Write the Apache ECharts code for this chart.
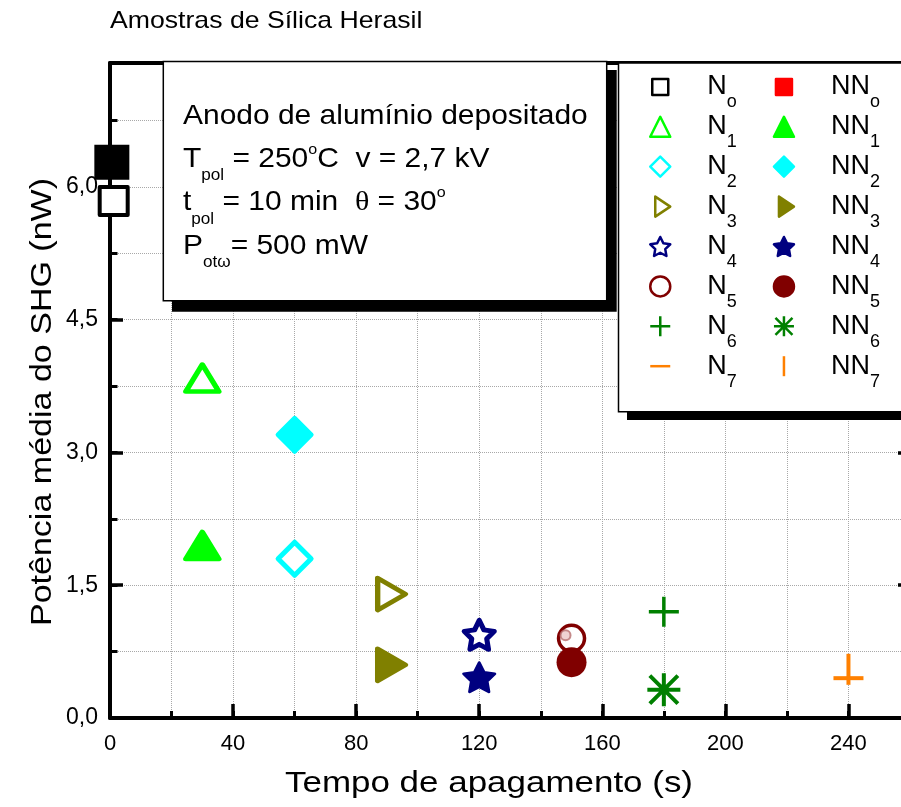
<!DOCTYPE html>
<html>
<head>
<meta charset="utf-8">
<script src="https://cdn.jsdelivr.net/npm/echarts@6/dist/echarts.min.js"></script>
<style>
  html, body { margin: 0; padding: 0; background: #fff; }
  #chart { width: 901px; height: 807px; }
</style>
</head>
<body>
<div id="chart"></div>
<script>
const FONT = '"Liberation Sans", Arial, Helvetica, sans-serif';

// Sample names: N = reference samples, NN = second set
const amostrasN  = ['No', 'N1', 'N2', 'N3', 'N4', 'N5', 'N6', 'N7'];
const amostrasNN = ['NNo', 'NN1', 'NN2', 'NN3', 'NN4', 'NN5', 'NN6', 'NN7'];

// Quenching time (s)
const tempoN  = [1.2, 30, 60, 90, 120, 150, 180, 240];
const tempoNN = [0.6, 30, 60, 90, 120, 150, 180, 240];

// Mean SHG power (nW)
const potenciaN  = [5.84, 3.84, 1.80, 1.40, 0.94, 0.90, 1.20, 0.45];
const potenciaNN = [6.28, 1.95, 3.20, 0.60, 0.46, 0.63, 0.32, 0.55];

// Labelled ticks
const xTicks = [0, 40, 80, 120, 160, 200, 240];
const yTicks = [0, 1.5, 3.0, 4.5, 6.0];

// Marker shapes
const STAR  = 'path://M0 -1 L0.294 -0.405 L0.951 -0.309 L0.476 0.155 L0.588 0.809 L0 0.5 L-0.588 0.809 L-0.476 0.155 L-0.951 -0.309 L-0.294 -0.405 Z';
const RTRI  = 'path://M-1 0 M-0.5 -1 L1 0 L-0.5 1 Z';
const PLUS  = 'path://M-1 0 L1 0 M0 -1 L0 1';
const ASTER = 'path://M-1 0 L1 0 M0 -1 L0 1 M-0.85 -0.85 L0.85 0.85 M-0.85 0.85 L0.85 -0.85';
const DASH  = 'path://M-1 -1 M-1 0 L1 0 M1 1';
const VBAR  = 'path://M-1 -1 M0 -1 L0 1 M1 1';
const SQ_LEG = 'path://M-1.25 -1.25 M1.25 1.25 M-1 -1 L1 -1 L1 1 L-1 1 Z';
const NONE = 'rgba(0,0,0,0)';

const estiloN = [
  { symbol: 'rect',     size: 28,       fill: '#fff', stroke: '#000000', bw: 4 },
  { symbol: 'triangle', size: [33, 27], fill: '#fff', stroke: '#00ff00', bw: 5 },
  { symbol: 'diamond',  size: [33, 33], fill: '#fff', stroke: '#00ffff', bw: 5 },
  { symbol: RTRI,       size: [37, 32], fill: '#fff', stroke: '#808000', bw: 5 },
  { symbol: STAR,       size: [30, 29], fill: '#fff', stroke: '#000080', bw: 5 },
  { symbol: 'circle',   size: 26,       fill: '#fff', stroke: '#800000', bw: 3.5 },
  { symbol: PLUS,       size: [30, 30], fill: NONE,   stroke: '#008000', bw: 3.5 },
  { symbol: DASH,       size: [30, 30], fill: NONE,   stroke: '#ff8000', bw: 4 }
];
const estiloNN = [
  { symbol: 'rect',     size: 35,       fill: '#000000', stroke: '#000000', bw: 0 },
  { symbol: 'triangle', size: [33, 27], fill: '#00ff00', stroke: '#00ff00', bw: 5 },
  { symbol: 'diamond',  size: [34, 34], fill: '#00ffff', stroke: '#00ffff', bw: 4 },
  { symbol: RTRI,       size: [37, 32], fill: '#808000', stroke: '#808000', bw: 5 },
  { symbol: STAR,       size: [31, 29], fill: '#000080', stroke: '#000080', bw: 3 },
  { symbol: 'circle',   size: 30,       fill: '#800000', stroke: '#800000', bw: 0 },
  { symbol: ASTER,      size: [33, 33], fill: NONE,      stroke: '#008000', bw: 4 },
  { symbol: VBAR,       size: [31, 31], fill: NONE,      stroke: '#ff8000', bw: 4 }
];

function serie(nome, x, y, e) {
  return {
    type: 'scatter',
    name: nome,
    data: [[x, y]],
    symbol: e.symbol,
    symbolSize: e.size,
    itemStyle: {
      color: e.fill, borderColor: e.stroke, borderWidth: e.bw,
      borderJoin: 'round', opacity: 1
    },
    emphasis: { disabled: true },
    z: 3
  };
}

const series = [];
amostrasN.forEach((n, i) => series.push(serie(n, tempoN[i], potenciaN[i], estiloN[i])));
amostrasNN.forEach((n, i) => series.push(serie(n, tempoNN[i], potenciaNN[i], estiloNN[i])));
// small reflection ring on the hollow N5 circle
series.push({
  type: 'scatter', name: 'N5-brilho', silent: true,
  data: [[tempoN[5], potenciaN[5]]],
  symbol: 'circle', symbolSize: 10, symbolOffset: [-6, -3],
  itemStyle: { color: '#ecc8c8', borderColor: '#b87070', borderWidth: 2 },
  emphasis: { disabled: true }, z: 4
});

function legendaNome(name) {
  const pre = name.startsWith('NN') ? 'NN' : 'N';
  return '{n|' + pre + '}{s|' + name.slice(pre.length) + '}';
}
const legendaRich = {
  n: { fontFamily: FONT, fontSize: 27, color: '#000', lineHeight: 30, padding: [0, 0, 0, 32] },
  s: { fontFamily: FONT, fontSize: 18, color: '#000', lineHeight: 30, padding: [31, 0, 0, 0] }
};
function legenda(nomes, left, extra) {
  return {
    orient: 'vertical', left: left, top: 62.4, padding: 0,
    itemWidth: 20, itemHeight: 20, itemGap: -9.1,
    selectedMode: false, z: 10,
    itemStyle: { borderWidth: 2.5 },
    data: nomes.map((n, i) => Object.assign({ name: n }, extra[i] || {})),
    formatter: legendaNome,
    textStyle: { fontFamily: FONT, fontSize: 27, color: '#000', lineHeight: 30, rich: legendaRich }
  };
}

const dotted = { show: true, lineStyle: { color: '#a8a8a8', width: 1, type: 'dotted' } };
const ink = '#000';
const spine = { show: true, onZero: false, lineStyle: { color: ink, width: 4 } };

const boxRich = {
  m: { font: '28px ' + FONT, fill: '#000', lineHeight: 43.3 },
  g: { font: '28px "Liberation Serif", serif', fill: '#000', lineHeight: 43.3 },
  s: { font: '16px ' + FONT, fill: '#000', lineHeight: 43.3, padding: [33, 0, 0, 0] },
  u: { font: '15px ' + FONT, fill: '#000', lineHeight: 43.3, padding: [0, 0, 19, 0] }
};
const boxTexto =
  '{m|Anodo de alumínio depositado}\n' +
  '{m|T}{s|pol}{m| = 250}{u|o}{m|C  v = 2,7 kV}\n' +
  '{m|t}{s|pol}{m| = 10 min  }{g|θ}{m| = 30}{u|o}\n' +
  '{m|P}{s|otω}{m|= 500 mW}';

const option = {
  animation: false,
  backgroundColor: '#fff',
  grid: { left: 110, top: 63, right: -9, bottom: 89, outerBoundsMode: 'none', containLabel: false },
  xAxis: [
    { id: 'xMenor', type: 'value', min: 0, max: 260, interval: 20, position: 'bottom',
      axisLine: spine,
      axisTick: { show: true, inside: true, length: 7, lineStyle: { color: ink, width: 3 } },
      axisLabel: { show: false }, splitLine: dotted },
    { id: 'xMaior', type: 'value', min: 0, max: 260, interval: 40, position: 'bottom',
      axisLine: { show: false, onZero: false },
      axisTick: { show: true, inside: true, length: 14, lineStyle: { color: ink, width: 3.5 } },
      axisLabel: { show: true, margin: 15, color: ink, fontFamily: FONT, fontSize: 22,
        formatter: v => xTicks.includes(v) ? String(v) : '' },
      splitLine: { show: false } },
    { id: 'xTopo', type: 'value', min: 0, max: 260, position: 'top',
      axisLine: spine,
      axisTick: { show: false }, axisLabel: { show: false }, splitLine: { show: false } }
  ],
  yAxis: [
    { id: 'yMenor', type: 'value', min: 0, max: 7.4, interval: 0.75, position: 'left',
      axisLine: spine,
      axisTick: { show: true, inside: true, length: 7.5, lineStyle: { color: ink, width: 3 } },
      axisLabel: { show: false }, splitLine: dotted },
    { id: 'yMaior', type: 'value', min: 0, max: 7.4, interval: 1.5, position: 'left',
      axisLine: { show: false, onZero: false },
      axisTick: { show: true, inside: true, length: 13, lineStyle: { color: ink, width: 3.5 } },
      axisLabel: { show: true, margin: 12, color: ink, fontFamily: FONT, fontSize: 23,
        formatter: v => yTicks.includes(v) ? v.toFixed(1).replace('.', ',') : '' },
      splitLine: { show: false } },
    { id: 'yDireita', type: 'value', min: 0, max: 7.4, interval: 1.5, position: 'right',
      axisLine: spine,
      axisTick: { show: true, inside: true, length: 12, lineStyle: { color: ink, width: 3.5 } },
      axisLabel: { show: false }, splitLine: { show: false } }
  ],
  legend: [
    legenda(amostrasN, 649, [{ icon: SQ_LEG }]),
    legenda(amostrasNN, 772.7, [{ icon: SQ_LEG, itemStyle: { color: '#ff0000', borderColor: '#ff0000' } }])
  ],
  series: series,
  graphic: [
    { type: 'text', x: 110, y: 21.7, scaleX: 1.11, z: 4, silent: true,
      style: { text: 'Amostras de Sílica Herasil', font: '24px ' + FONT, fill: '#000',
               align: 'left', verticalAlign: 'middle' } },
    // parameter box with drop shadow
    { type: 'rect', z: 3, silent: true, shape: { x: 172, y: 70, width: 444.7, height: 241.7 },
      style: { fill: '#000' } },
    { type: 'rect', z: 3, silent: true, shape: { x: 163.3, y: 61.5, width: 443.4, height: 239.2 },
      style: { fill: '#fff', stroke: '#000', lineWidth: 1.5 } },
    { type: 'text', x: 183, y: 94.5, scaleX: 1.07, z: 4, silent: true,
      style: { text: boxTexto, rich: boxRich, font: '28px ' + FONT, fill: '#000',
               lineHeight: 43.3, align: 'left', verticalAlign: 'top' } },
    // legend frame with drop shadow
    { type: 'rect', z: 3, silent: true, shape: { x: 627, y: 70, width: 320, height: 350 },
      style: { fill: '#000' } },
    { type: 'rect', z: 3, silent: true, shape: { x: 618.5, y: 63, width: 320, height: 348.7 },
      style: { fill: '#fff', stroke: '#000', lineWidth: 1.5 } },
    // axis titles
    { type: 'text', x: 489, y: 783.6, scaleX: 1.165, z: 4, silent: true,
      style: { text: 'Tempo de apagamento (s)', font: '30px ' + FONT, fill: '#000',
               align: 'center', verticalAlign: 'middle' } },
    { type: 'text', x: 43, y: 402, rotation: Math.PI / 2, scaleX: 1.134, z: 4, silent: true,
      style: { text: 'Potência média do SHG (nW)', font: '30px ' + FONT, fill: '#000',
               align: 'center', verticalAlign: 'middle' } }
  ]
};

const chart = echarts.init(document.getElementById('chart'), null, { renderer: 'canvas' });
chart.setOption(option);
</script>
</body>
</html>
